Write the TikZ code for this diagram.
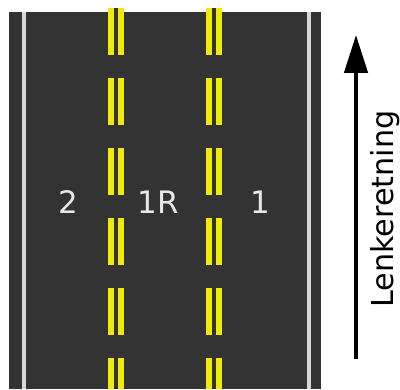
\documentclass[tikz,border=0pt]{standalone}
\usepackage{fontspec}
\setmainfont{DejaVu Sans}
\usetikzlibrary{arrows.meta}

\definecolor{asphalt}{RGB}{51,51,51}
\definecolor{edgewhite}{RGB}{215,215,215}
\definecolor{lineyellow}{RGB}{240,234,10}
\definecolor{lanetext}{RGB}{232,232,232}

\tikzset{
  midline/.style={draw=lineyellow, line width=3.9pt, double=asphalt, double distance=2.9pt},
  edgeline/.style={draw=edgewhite, line width=2.4pt},
  lanelabel/.style={text=lanetext, anchor=base, inner sep=0pt, font=\fontsize{22}{26}\selectfont},
  dirarrow/.style={-{Triangle[length=27pt,width=16.5pt]}, line width=2.9pt}
}

\begin{document}
\begin{tikzpicture}[x=0.025cm, y=-0.025cm]

  \useasboundingbox (0,0) rectangle (400,389);
  \fill[asphalt] (9,12) rectangle (321,389);
  \draw[edgeline] (24,12) -- (24,389);
  \draw[edgeline] (309,12) -- (309,389);

  \draw[midline] (116,8) -- (116,55);
  \draw[midline] (116,78) -- (116,125);
  \draw[midline] (116,148) -- (116,195);
  \draw[midline] (116,218) -- (116,265);
  \draw[midline] (116,288) -- (116,335);
  \draw[midline] (116,358) -- (116,389);

  \draw[midline] (214,8) -- (214,55);
  \draw[midline] (214,78) -- (214,125);
  \draw[midline] (214,148) -- (214,195);
  \draw[midline] (214,218) -- (214,265);
  \draw[midline] (214,288) -- (214,335);
  \draw[midline] (214,358) -- (214,389);

  \node[lanelabel] (lane2) at (68,213) {2};
  \node[lanelabel] (lane1R) at (158.5,213) {1R};
  \node[lanelabel] (lane1) at (260,213) {1};

  \coordinate (dirtail) at (356,359);
  \coordinate (dirhead) at (356,35);
  \draw[dirarrow] (dirtail) -- (dirhead);
  \node[rotate=90, anchor=base, inner sep=0pt, font=\fontsize{21.5}{25}\selectfont] (dirlabel) at (393,209) {Lenkeretning};

\end{tikzpicture}
\end{document}
